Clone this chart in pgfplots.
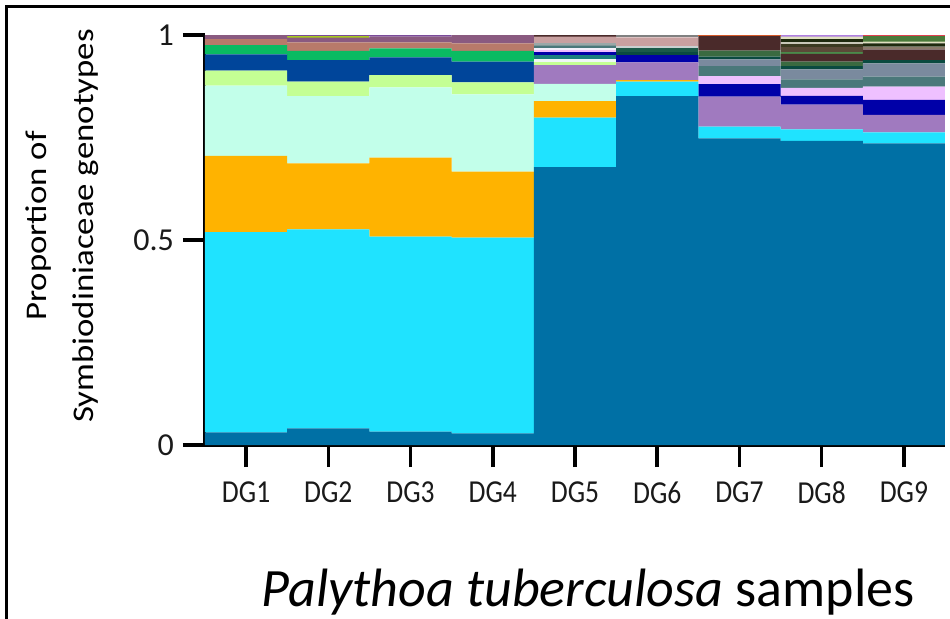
\documentclass[border=0pt]{standalone}
\usepackage{fontspec}
\setmainfont{Carlito}
\newfontfamily\tickfontx{Carlito}[FakeStretch=0.86]
\newfontfamily\ylabfont{Carlito}[FakeStretch=1.16]
\usepackage{pgfplots}
\usepackage{pgfplotstable}
\pgfplotsset{compat=1.18}
\definecolor{c1}{HTML}{0070A5}
\definecolor{c2}{HTML}{1FE3FF}
\definecolor{c3}{HTML}{FFB300}
\definecolor{c4}{HTML}{C2FFEA}
\definecolor{c5}{HTML}{A07ABF}
\definecolor{c6}{HTML}{C4FF94}
\definecolor{c7}{HTML}{00459A}
\definecolor{c8}{HTML}{0ABB62}
\definecolor{c9}{HTML}{B87A6A}
\definecolor{c10}{HTML}{8A5A80}
\definecolor{c11}{HTML}{A8C820}
\definecolor{c12}{HTML}{7A4A9A}
\definecolor{c13}{HTML}{EEF6F6}
\definecolor{c14}{HTML}{1A8080}
\definecolor{c15}{HTML}{0000A8}
\definecolor{c16}{HTML}{0A4A40}
\definecolor{c17}{HTML}{1A5A48}
\definecolor{c18}{HTML}{C8D0D0}
\definecolor{c19}{HTML}{EEC0FF}
\definecolor{c20}{HTML}{F4F0FA}
\definecolor{c21}{HTML}{4A787A}
\definecolor{c22}{HTML}{9AA8A8}
\definecolor{c23}{HTML}{7A8A9E}
\definecolor{c24}{HTML}{0A4A40}
\definecolor{c25}{HTML}{3A6A40}
\definecolor{c26}{HTML}{4A2A2A}
\definecolor{c27}{HTML}{4A8A4A}
\definecolor{c28}{HTML}{5A4A38}
\definecolor{c29}{HTML}{8A7A6A}
\definecolor{c30}{HTML}{3A3A20}
\definecolor{c31}{HTML}{C8C8B8}
\definecolor{c32}{HTML}{1E2A0E}
\definecolor{c33}{HTML}{E0E0C0}
\definecolor{c34}{HTML}{4A7A3A}
\definecolor{c35}{HTML}{C8A0A0}
\definecolor{c36}{HTML}{808080}
\definecolor{c37}{HTML}{4A2A2A}
\definecolor{c38}{HTML}{E8602A}
\definecolor{c39}{HTML}{B080E0}
\definecolor{c40}{HTML}{E04050}
\definecolor{txt}{HTML}{1A1A1A}
% rows: samples DG1..DG9; columns s1..s40: genotype proportions (bottom to top)
\pgfplotstableread{
x s1 s2 s3 s4 s5 s6 s7 s8 s9 s10 s11 s12 s13 s14 s15 s16 s17 s18 s19 s20 s21 s22 s23 s24 s25 s26 s27 s28 s29 s30 s31 s32 s33 s34 s35 s36 s37 s38 s39 s40
1 .031 .4885 .1854 .1715 0 .0366 .0398 .0228 .0146 .0098 0 0 0 0 0 0 0 0 0 0 0 0 0 0 0 0 0 0 0 0 0 0 0 0 0 0 0 0 0 0
2 .0406 .4854 .161 .1642 0 .035 .0528 .022 .0211 .0114 .0041 .0024 0 0 0 0 0 0 0 0 0 0 0 0 0 0 0 0 0 0 0 0 0 0 0 0 0 0 0 0
3 .0325 .4755 .1928 .1716 0 .030 .0431 .022 .0146 .0138 0 .0041 0 0 0 0 0 0 0 0 0 0 0 0 0 0 0 0 0 0 0 0 0 0 0 0 0 0 0 0
4 .0285 .4772 .161 .1886 0 .0293 .0504 .026 .0187 .0203 0 0 0 0 0 0 0 0 0 0 0 0 0 0 0 0 0 0 0 0 0 0 0 0 0 0 0 0 0 0
5 .678 .1204 .0406 .0419 .0459 .0073 0 0 0 0 0 0 .0066 .0105 .0073 0 0 0 .0049 .0041 .0065 .0057 0 0 0 0 0 0 0 0 0 0 0 0 .0162 0 .0041 0 0 0
6 .8512 .035 .004 0 .0431 0 0 0 0 0 0 0 0 0 .0179 .0081 .0082 .0057 0 0 0 0 0 0 0 0 0 0 0 0 0 0 0 0 .0211 .0057 0 0 0 0
7 .748 .0284 0 0 .0732 0 0 0 0 0 0 0 0 0 .0309 0 0 0 .0195 0 .0244 0 .0163 .0065 .0146 .0358 0 0 0 0 0 0 0 0 0 0 0 .0024 0 0
8 .7415 .0281 0 0 .0605 0 0 0 0 0 0 0 0 0 .0212 0 0 0 .0196 0 .021 0 .0244 .0081 .0106 .0187 .0056 .0106 0 .0081 .0041 .0081 .0057 0 0 0 0 0 .0041 0
9 .7358 .0268 0 0 .0423 0 0 0 0 0 0 0 0 0 .0366 0 0 0 .0325 0 .0244 0 .0325 .0081 0 .026 0 0 .0065 0 0 .0082 .004 .0147 0 0 0 0 0 .0016
}\data
\begin{document}
\begin{tikzpicture}
\useasboundingbox (0,0) rectangle (475pt,309pt);
\draw[line width=1.5pt] (3.35pt,-5pt) -- (3.35pt,305.7pt) -- (480pt,305.7pt);
\begin{axis}[
  at={(102.5pt,86.5pt)}, anchor=south west,
  scale only axis, width=370pt, height=205pt,
  xmin=0.5, xmax=9.5, ymin=0, ymax=1,
  ybar stacked, bar width=1,
  axis x line*=bottom, axis y line*=left,
  axis line style={line width=1.5pt, -},
  tick align=outside, major tick length=11pt,
  tick style={line width=1.8pt, black},
  xtick={1,...,9},
  xticklabels={DG1,DG2,DG3,DG4,DG5,DG6,DG7,DG8,DG9},
  ytick={0,0.5,1}, yticklabels={0,0.5,1},
  /pgf/number format/assume math mode=true,
  xticklabel style={font=\tickfontx\fontsize{16}{18}\selectfont, text=txt, yshift=-4pt},
  yticklabel style={font=\fontsize{16}{18}\selectfont, text=txt, xshift=-1pt},
  xlabel={\textit{Palythoa tuberculosa} samples},
  xlabel style={font=\fontsize{27}{32}\selectfont, text=black,
    at={(axis description cs:0.5176,-0.3585)}, anchor=center},
  ylabel={Proportion of\\Symbiodiniaceae genotypes},
  ylabel style={font=\ylabfont\fontsize{15}{23.5}\selectfont, align=center, text=black,
    at={(axis description cs:-0.193,0.534)}, anchor=center},
]
\pgfplotsinvokeforeach{1,...,40}{
  \addplot[fill=c#1, draw=none] table[x=x, y=s#1] {\data};
}
\end{axis}
\end{tikzpicture}
\end{document}
